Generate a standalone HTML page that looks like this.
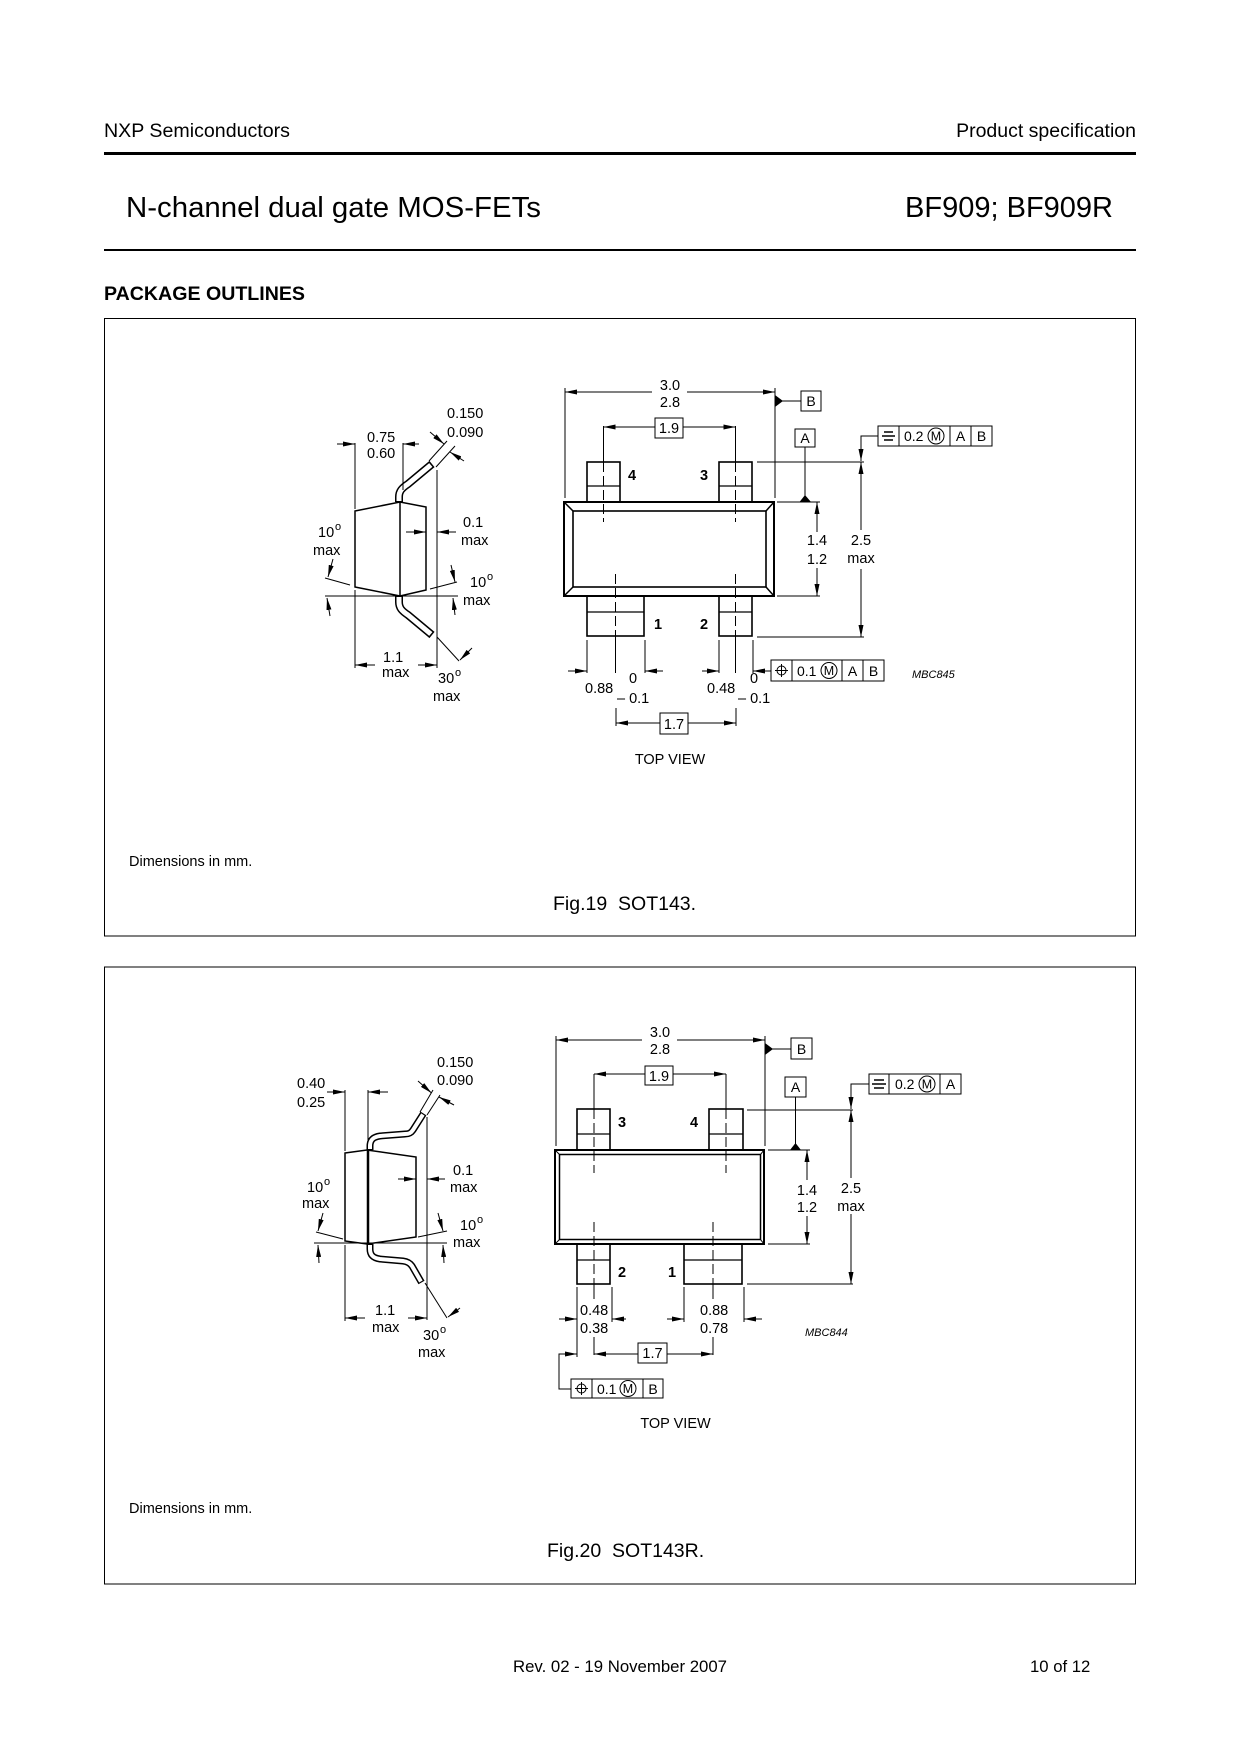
<!DOCTYPE html>
<html><head><meta charset="utf-8"><title>BF909 package outlines</title>
<style>
html,body{margin:0;padding:0;background:#fff;}
svg{display:block;}
text{font-family:"Liberation Sans",Arial,Helvetica,sans-serif;fill:#000;}
.t{font-size:14.5px;}
.s{font-size:11px;}
.cm{font-size:12.5px;}
.f{font-size:14px;}
.b{font-weight:bold;}
.m{text-anchor:middle;}
.l{stroke:#000;fill:none;stroke-width:1;}
</style></head>
<body>
<svg width="1240" height="1754" viewBox="0 0 1240 1754" xmlns="http://www.w3.org/2000/svg">
<defs>
<marker id="a" viewBox="0 0 12 5" refX="12" refY="2.5" markerWidth="12" markerHeight="5" markerUnits="userSpaceOnUse" orient="auto"><path d="M0,0L12,2.5L0,5z" fill="#000"/></marker>
</defs>
<rect width="1240" height="1754" fill="#fff"/>

<!-- HEADER -->
<text x="104" y="137" font-size="19.5" textLength="186" lengthAdjust="spacingAndGlyphs">NXP Semiconductors</text>
<text x="1136" y="137" font-size="19.5" text-anchor="end">Product specification</text>
<line x1="104" y1="153.5" x2="1136" y2="153.5" stroke="#000" stroke-width="3"/>
<text x="126" y="217" font-size="29" textLength="415" lengthAdjust="spacingAndGlyphs">N-channel dual gate MOS-FETs</text>
<text x="1113" y="217" font-size="29" text-anchor="end">BF909; BF909R</text>
<line x1="104" y1="250" x2="1136" y2="250" stroke="#000" stroke-width="2"/>
<text x="104" y="300" font-size="19" font-weight="bold" textLength="201" lengthAdjust="spacingAndGlyphs">PACKAGE OUTLINES</text>

<!-- BOXES -->
<rect x="104.5" y="318.5" width="1031" height="617.5" class="l" stroke-width="1.5"/>
<rect x="104.5" y="967" width="1031" height="617" class="l" stroke-width="1.5"/>

<!-- ================= FIG 19 PROFILE ================= -->
<g class="l">
<path d="M399,502 V497 C399,491 402,488 408,484 L432,464" stroke-width="8"/>
<path d="M399,501 V497 C399,491 402,488 408,484 L430.8,465" stroke="#fff" stroke-width="5"/>
<path d="M399,596 V602 C399,608 402,611 408,615 L432,635" stroke-width="8"/>
<path d="M399,597 V602 C399,608 402,611 408,615 L430.8,634" stroke="#fff" stroke-width="5"/>
<path d="M355,511 L400,502 L426,507 L426,590 L400,596 L355,587 Z M400,502 V596" stroke-width="1.5"/>

<line x1="355" y1="443" x2="355" y2="509"/>
<line x1="403" y1="443" x2="403" y2="490"/>
<line x1="337" y1="444" x2="355" y2="444" marker-end="url(#a)"/>
<line x1="419" y1="444" x2="403" y2="444" marker-end="url(#a)"/>
<line x1="437" y1="470" x2="437" y2="668"/>
<line x1="429" y1="461" x2="447" y2="441"/>
<line x1="436" y1="467" x2="455" y2="446"/>
<line x1="430" y1="432" x2="444" y2="444" marker-end="url(#a)"/>
<line x1="464" y1="461" x2="450" y2="452" marker-end="url(#a)"/>
<line x1="406" y1="532" x2="426" y2="532" marker-end="url(#a)"/>
<line x1="456" y1="532" x2="437" y2="532" marker-end="url(#a)"/>
<line x1="325" y1="578" x2="350" y2="585"/>
<line x1="333" y1="559" x2="328" y2="577" marker-end="url(#a)"/>
<line x1="325" y1="596" x2="458" y2="596"/>
<line x1="330" y1="616" x2="327" y2="598" marker-end="url(#a)"/>
<line x1="430" y1="589" x2="457" y2="582"/>
<line x1="451" y1="565" x2="455" y2="582" marker-end="url(#a)"/>
<line x1="455" y1="615" x2="453" y2="598" marker-end="url(#a)"/>
<line x1="355" y1="590" x2="355" y2="668"/>
<line x1="375" y1="665" x2="355" y2="665" marker-end="url(#a)"/>
<line x1="418" y1="665" x2="437" y2="665" marker-end="url(#a)"/>
<line x1="437" y1="637" x2="459" y2="661"/>
<line x1="472" y1="648" x2="460" y2="660" marker-end="url(#a)"/>
</g>
<text class="t" x="367" y="442">0.75</text>
<text class="t" x="367" y="458">0.60</text>
<text class="t" x="447" y="418">0.150</text>
<text class="t" x="447" y="437">0.090</text>
<text class="t" x="463" y="527">0.1</text>
<text class="t" x="461" y="545">max</text>
<text class="t" x="318" y="537">10</text><text class="s" x="335" y="530">o</text>
<text class="t" x="313" y="555">max</text>
<text class="t" x="470" y="587">10</text><text class="s" x="487" y="580">o</text>
<text class="t" x="463" y="605">max</text>
<text class="t" x="383" y="662">1.1</text>
<text class="t" x="382" y="677">max</text>
<text class="t" x="438" y="683">30</text><text class="s" x="455" y="676">o</text>
<text class="t" x="433" y="701">max</text>

<!-- ================= FIG 19 TOP VIEW ================= -->
<g class="l">
<rect x="564" y="502" width="210" height="94" stroke-width="2"/>
<rect x="573" y="511" width="193" height="76" stroke-width="1.6"/>
<line x1="564" y1="502" x2="573" y2="511" stroke-width="1.5"/>
<line x1="774" y1="502" x2="766" y2="511" stroke-width="1.5"/>
<line x1="564" y1="596" x2="573" y2="587" stroke-width="1.5"/>
<line x1="774" y1="596" x2="766" y2="587" stroke-width="1.5"/>
<rect x="587" y="462" width="33" height="40" stroke-width="1.6"/>
<line x1="587" y1="486" x2="620" y2="486" stroke-width="1.3"/>
<rect x="719" y="462" width="33" height="40" stroke-width="1.6"/>
<line x1="719" y1="486" x2="752" y2="486" stroke-width="1.3"/>
<rect x="587" y="596" width="57" height="40" stroke-width="1.6"/>
<line x1="587" y1="612" x2="644" y2="612" stroke-width="1.3"/>
<rect x="719" y="596" width="33" height="40" stroke-width="1.6"/>
<line x1="719" y1="612" x2="752" y2="612" stroke-width="1.3"/>

<line x1="603.5" y1="426" x2="603.5" y2="462"/>
<line x1="603.5" y1="462" x2="603.5" y2="522" stroke-dasharray="10,4"/>
<line x1="735.5" y1="426" x2="735.5" y2="462"/>
<line x1="735.5" y1="462" x2="735.5" y2="522" stroke-dasharray="10,4"/>
<line x1="615.5" y1="574" x2="615.5" y2="636" stroke-dasharray="10,4"/>
<line x1="615.5" y1="636" x2="615.5" y2="673"/>
<line x1="735.5" y1="574" x2="735.5" y2="636" stroke-dasharray="10,4"/>
<line x1="735.5" y1="636" x2="735.5" y2="673"/>

<line x1="652" y1="392" x2="565" y2="392" marker-end="url(#a)"/>
<line x1="687" y1="392" x2="775" y2="392" marker-end="url(#a)"/>
<line x1="565" y1="388" x2="565" y2="498"/>
<line x1="775" y1="388" x2="775" y2="498"/>
<rect x="655" y="418" width="28" height="20"/>
<line x1="655" y1="427" x2="603.5" y2="427" marker-end="url(#a)"/>
<line x1="683" y1="427" x2="735.5" y2="427" marker-end="url(#a)"/>

<line x1="587" y1="640" x2="587" y2="673"/>
<line x1="645" y1="640" x2="645" y2="673"/>
<line x1="719" y1="640" x2="719" y2="673"/>
<line x1="753" y1="640" x2="753" y2="673"/>
<line x1="568" y1="671" x2="587" y2="671" marker-end="url(#a)"/>
<line x1="663" y1="671" x2="645" y2="671" marker-end="url(#a)"/>
<line x1="702" y1="671" x2="719" y2="671" marker-end="url(#a)"/>
<line x1="771" y1="671" x2="753" y2="671" marker-end="url(#a)"/>

<line x1="616" y1="708" x2="616" y2="726"/>
<line x1="736" y1="708" x2="736" y2="726"/>
<rect x="660" y="713" width="28" height="21"/>
<line x1="660" y1="723" x2="616" y2="723" marker-end="url(#a)"/>
<line x1="688" y1="723" x2="736" y2="723" marker-end="url(#a)"/>

<!-- datum B / A -->
<rect x="801" y="391" width="20" height="20"/>
<line x1="775" y1="401" x2="801" y2="401"/>
<polygon points="775,395 775,407 783,401" fill="#000" stroke="none"/>
<rect x="795" y="429" width="20" height="18"/>
<line x1="805" y1="447" x2="805" y2="502"/>
<polygon points="799.5,502 811,502 805,495" fill="#000" stroke="none"/>
<line x1="777" y1="502" x2="820" y2="502"/>
<line x1="777" y1="596" x2="820" y2="596"/>
<line x1="817" y1="532" x2="817" y2="502" marker-end="url(#a)"/>
<line x1="817" y1="568" x2="817" y2="596" marker-end="url(#a)"/>
<line x1="757" y1="462" x2="864" y2="462"/>
<line x1="757" y1="637" x2="864" y2="637"/>
<line x1="861" y1="530" x2="861" y2="462" marker-end="url(#a)"/>
<line x1="861" y1="569" x2="861" y2="637" marker-end="url(#a)"/>
<path d="M878,436 H861 V461" marker-end="url(#a)"/>
<rect x="878" y="426" width="114" height="20"/>
<line x1="899" y1="426" x2="899" y2="446"/>
<line x1="950" y1="426" x2="950" y2="446"/>
<line x1="971" y1="426" x2="971" y2="446"/>
<line x1="884" y1="432" x2="893" y2="432" stroke-width="1.5"/>
<line x1="882" y1="436" x2="895" y2="436" stroke-width="1.5"/>
<line x1="884" y1="440" x2="893" y2="440" stroke-width="1.5"/>
<circle cx="936" cy="436" r="8"/>
<rect x="771" y="660" width="113" height="21"/>
<line x1="792" y1="660" x2="792" y2="681"/>
<line x1="842" y1="660" x2="842" y2="681"/>
<line x1="863" y1="660" x2="863" y2="681"/>
<circle cx="781.5" cy="670.5" r="4.5"/>
<line x1="781.5" y1="664" x2="781.5" y2="677"/>
<line x1="775" y1="670.5" x2="788" y2="670.5"/>
<circle cx="829" cy="670.5" r="8"/>
</g>
<text class="t b m" x="632" y="480">4</text>
<text class="t b m" x="704" y="480">3</text>
<text class="t b m" x="658" y="629">1</text>
<text class="t b m" x="704" y="629">2</text>
<text class="t m" x="670" y="390">3.0</text>
<text class="t m" x="670" y="407">2.8</text>
<text class="t m" x="669" y="433">1.9</text>
<text class="t" x="585" y="693">0.88</text>
<text class="t" x="629" y="683">0</text>
<text class="t" x="617" y="703">– 0.1</text>
<text class="t" x="707" y="693">0.48</text>
<text class="t" x="750" y="683">0</text>
<text class="t" x="738" y="703">– 0.1</text>
<text class="t m" x="674" y="729">1.7</text>
<text class="t m" x="670" y="764">TOP VIEW</text>
<text class="f m" x="811" y="406">B</text>
<text class="f m" x="805" y="443">A</text>
<text class="t m" x="817" y="545">1.4</text>
<text class="t m" x="817" y="564">1.2</text>
<text class="t m" x="861" y="545">2.5</text>
<text class="t m" x="861" y="563">max</text>
<text class="f" x="904" y="441">0.2</text>
<text class="cm m" x="936" y="440.5">M</text>
<text class="f m" x="960.5" y="441">A</text>
<text class="f m" x="981.5" y="441">B</text>
<text class="f" x="797" y="676">0.1</text>
<text class="cm m" x="829" y="675">M</text>
<text class="f m" x="852.5" y="676">A</text>
<text class="f m" x="873.5" y="676">B</text>
<text class="s" x="912" y="678" font-style="italic">MBC845</text>

<text class="t" x="129" y="866">Dimensions in mm.</text>
<text x="553" y="910" font-size="19.5">Fig.19&#160; SOT143.</text>

<!-- ================= FIG 20 PROFILE ================= -->
<g class="l">
<path d="M370,1150 V1146 C370,1140 373,1137 380,1136 L405,1134 C409,1134 411,1133 413,1130 L423.5,1113.5" stroke-width="7"/>
<path d="M370,1149 V1146 C370,1140 373,1137 380,1136 L405,1134 C409,1134 411,1133 413,1130 L422.9,1114.5" stroke="#fff" stroke-width="4"/>
<path d="M370,1244 V1249 C370,1255 373,1258 380,1259 L403,1261 C407,1261.5 410,1263 412,1266 L421.5,1282.5" stroke-width="7"/>
<path d="M370,1245 V1249 C370,1255 373,1258 380,1259 L403,1261 C407,1261.5 410,1263 412,1266 L420.9,1281.5" stroke="#fff" stroke-width="4"/>
<path d="M345,1153 L367,1150 L416,1157 L416,1237 L367,1244 L345,1241 Z" stroke-width="1.5"/>
<line x1="368" y1="1150" x2="368" y2="1244" stroke-width="2.5"/>

<line x1="345" y1="1090" x2="345" y2="1151"/>
<line x1="368" y1="1090" x2="368" y2="1140"/>
<line x1="327" y1="1092" x2="345" y2="1092" marker-end="url(#a)"/>
<line x1="388" y1="1092" x2="368" y2="1092" marker-end="url(#a)"/>
<line x1="427" y1="1117" x2="427" y2="1320"/>
<line x1="420" y1="1112" x2="433" y2="1090"/>
<line x1="427" y1="1115" x2="440" y2="1095"/>
<line x1="418" y1="1081" x2="431.5" y2="1093" marker-end="url(#a)"/>
<line x1="454" y1="1105" x2="439" y2="1097" marker-end="url(#a)"/>
<line x1="398" y1="1179" x2="416" y2="1179" marker-end="url(#a)"/>
<line x1="445" y1="1179" x2="427" y2="1179" marker-end="url(#a)"/>
<line x1="316" y1="1232" x2="343" y2="1239"/>
<line x1="323" y1="1213" x2="318" y2="1231" marker-end="url(#a)"/>
<line x1="314" y1="1243" x2="447" y2="1243"/>
<line x1="319" y1="1263" x2="318" y2="1245" marker-end="url(#a)"/>
<line x1="418" y1="1237" x2="447" y2="1231"/>
<line x1="438" y1="1213" x2="443" y2="1231" marker-end="url(#a)"/>
<line x1="444" y1="1263" x2="443" y2="1245" marker-end="url(#a)"/>
<line x1="345" y1="1245" x2="345" y2="1321"/>
<line x1="365" y1="1318" x2="345" y2="1318" marker-end="url(#a)"/>
<line x1="408" y1="1318" x2="427" y2="1318" marker-end="url(#a)"/>
<line x1="425" y1="1283" x2="447" y2="1318"/>
<line x1="460" y1="1308" x2="448" y2="1317" marker-end="url(#a)"/>
</g>
<text class="t" x="297" y="1088">0.40</text>
<text class="t" x="297" y="1107">0.25</text>
<text class="t" x="437" y="1067">0.150</text>
<text class="t" x="437" y="1085">0.090</text>
<text class="t" x="453" y="1175">0.1</text>
<text class="t" x="450" y="1192">max</text>
<text class="t" x="307" y="1192">10</text><text class="s" x="324" y="1185">o</text>
<text class="t" x="302" y="1208">max</text>
<text class="t" x="460" y="1230">10</text><text class="s" x="477" y="1223">o</text>
<text class="t" x="453" y="1247">max</text>
<text class="t" x="375" y="1315">1.1</text>
<text class="t" x="372" y="1332">max</text>
<text class="t" x="423" y="1340">30</text><text class="s" x="440" y="1333">o</text>
<text class="t" x="418" y="1357">max</text>

<!-- ================= FIG 20 TOP VIEW ================= -->
<g class="l">
<rect x="555" y="1150" width="209" height="94" stroke-width="2"/>
<rect x="559.5" y="1154.5" width="201" height="85" stroke-width="1.5"/>
<line x1="555" y1="1150" x2="559.5" y2="1154.5"/>
<line x1="764" y1="1150" x2="760.5" y2="1154.5"/>
<line x1="555" y1="1244" x2="559.5" y2="1239.5"/>
<line x1="764" y1="1244" x2="760.5" y2="1239.5"/>
<rect x="577" y="1109" width="33" height="41" stroke-width="1.6"/>
<line x1="577" y1="1134" x2="610" y2="1134" stroke-width="1.3"/>
<rect x="709" y="1109" width="34" height="41" stroke-width="1.6"/>
<line x1="709" y1="1134" x2="743" y2="1134" stroke-width="1.3"/>
<rect x="577" y="1244" width="33" height="40" stroke-width="1.6"/>
<line x1="577" y1="1260" x2="610" y2="1260" stroke-width="1.3"/>
<rect x="684" y="1244" width="58" height="40" stroke-width="1.6"/>
<line x1="684" y1="1260" x2="742" y2="1260" stroke-width="1.3"/>

<line x1="594" y1="1074" x2="594" y2="1109"/>
<line x1="594" y1="1109" x2="594" y2="1173" stroke-dasharray="10,4"/>
<line x1="726" y1="1074" x2="726" y2="1109"/>
<line x1="726" y1="1109" x2="726" y2="1173" stroke-dasharray="10,4"/>
<line x1="594" y1="1222" x2="594" y2="1284" stroke-dasharray="10,4"/>
<line x1="594" y1="1284" x2="594" y2="1299"/>
<line x1="594" y1="1337" x2="594" y2="1355"/>
<line x1="713" y1="1222" x2="713" y2="1284" stroke-dasharray="10,4"/>
<line x1="713" y1="1284" x2="713" y2="1299"/>
<line x1="713" y1="1337" x2="713" y2="1355"/>

<line x1="642" y1="1040" x2="556" y2="1040" marker-end="url(#a)"/>
<line x1="677" y1="1040" x2="765" y2="1040" marker-end="url(#a)"/>
<line x1="556" y1="1036" x2="556" y2="1146"/>
<line x1="765" y1="1036" x2="765" y2="1146"/>
<rect x="645" y="1066" width="28" height="19"/>
<line x1="645" y1="1074" x2="594" y2="1074" marker-end="url(#a)"/>
<line x1="673" y1="1074" x2="726" y2="1074" marker-end="url(#a)"/>

<line x1="577" y1="1287" x2="577" y2="1357"/>
<line x1="612" y1="1287" x2="612" y2="1322"/>
<line x1="684" y1="1287" x2="684" y2="1322"/>
<line x1="744" y1="1287" x2="744" y2="1322"/>
<line x1="559" y1="1319" x2="577" y2="1319" marker-end="url(#a)"/>
<line x1="626" y1="1319" x2="612" y2="1319" marker-end="url(#a)"/>
<line x1="667" y1="1319" x2="684" y2="1319" marker-end="url(#a)"/>
<line x1="762" y1="1319" x2="744" y2="1319" marker-end="url(#a)"/>

<rect x="638" y="1343" width="29" height="20"/>
<line x1="638" y1="1354" x2="594" y2="1354" marker-end="url(#a)"/>
<line x1="667" y1="1354" x2="713" y2="1354" marker-end="url(#a)"/>
<path d="M571,1389 H559 V1354 H577" marker-end="url(#a)"/>
<rect x="571" y="1379" width="92" height="19"/>
<line x1="592" y1="1379" x2="592" y2="1398"/>
<line x1="643" y1="1379" x2="643" y2="1398"/>
<circle cx="581.5" cy="1388.5" r="4.5"/>
<line x1="581.5" y1="1382" x2="581.5" y2="1395"/>
<line x1="575" y1="1388.5" x2="588" y2="1388.5"/>
<circle cx="628" cy="1388.5" r="8"/>

<rect x="791" y="1038" width="21" height="21"/>
<line x1="765" y1="1049" x2="791" y2="1049"/>
<polygon points="765,1043 765,1055 773,1049" fill="#000" stroke="none"/>
<rect x="785" y="1077" width="21" height="20"/>
<line x1="795.5" y1="1097" x2="795.5" y2="1150"/>
<polygon points="790,1150 801,1150 795.5,1143" fill="#000" stroke="none"/>
<line x1="768" y1="1150" x2="810" y2="1150"/>
<line x1="768" y1="1244" x2="810" y2="1244"/>
<line x1="807" y1="1180" x2="807" y2="1150" marker-end="url(#a)"/>
<line x1="807" y1="1216" x2="807" y2="1244" marker-end="url(#a)"/>
<line x1="747" y1="1110" x2="853" y2="1110"/>
<line x1="747" y1="1284" x2="853" y2="1284"/>
<line x1="851" y1="1178" x2="851" y2="1110" marker-end="url(#a)"/>
<line x1="851" y1="1214" x2="851" y2="1284" marker-end="url(#a)"/>
<path d="M869,1084 H851 V1109" marker-end="url(#a)"/>
<rect x="869" y="1074" width="92" height="20"/>
<line x1="889" y1="1074" x2="889" y2="1094"/>
<line x1="940" y1="1074" x2="940" y2="1094"/>
<line x1="874" y1="1080" x2="884" y2="1080" stroke-width="1.5"/>
<line x1="872" y1="1084" x2="886" y2="1084" stroke-width="1.5"/>
<line x1="874" y1="1088" x2="884" y2="1088" stroke-width="1.5"/>
<circle cx="927" cy="1084" r="8"/>
</g>
<text class="t b m" x="622" y="1127">3</text>
<text class="t b m" x="694" y="1127">4</text>
<text class="t b m" x="622" y="1277">2</text>
<text class="t b m" x="672" y="1277">1</text>
<text class="t m" x="660" y="1037">3.0</text>
<text class="t m" x="660" y="1054">2.8</text>
<text class="t m" x="659" y="1081">1.9</text>
<text class="t" x="580" y="1315">0.48</text>
<text class="t" x="580" y="1333">0.38</text>
<text class="t" x="700" y="1315">0.88</text>
<text class="t" x="700" y="1333">0.78</text>
<text class="t m" x="652.5" y="1358">1.7</text>
<text class="f" x="597" y="1394">0.1</text>
<text class="cm m" x="628" y="1393">M</text>
<text class="f m" x="653" y="1394">B</text>
<text class="t m" x="675.5" y="1428">TOP VIEW</text>
<text class="f m" x="801.5" y="1054">B</text>
<text class="f m" x="795.5" y="1092">A</text>
<text class="t m" x="807" y="1195">1.4</text>
<text class="t m" x="807" y="1212">1.2</text>
<text class="t m" x="851" y="1193">2.5</text>
<text class="t m" x="851" y="1211">max</text>
<text class="f" x="895" y="1089">0.2</text>
<text class="cm m" x="927" y="1088.5">M</text>
<text class="f m" x="950.5" y="1089">A</text>
<text class="s" x="805" y="1336" font-style="italic">MBC844</text>

<text class="t" x="129" y="1513">Dimensions in mm.</text>
<text x="547" y="1557" font-size="19.5">Fig.20&#160; SOT143R.</text>

<!-- FOOTER -->
<text x="513" y="1672" font-size="16.7" textLength="214" lengthAdjust="spacingAndGlyphs">Rev. 02 - 19 November 2007</text>
<text x="1030" y="1672" font-size="16.7">10 of 12</text>
</svg>
</body></html>
